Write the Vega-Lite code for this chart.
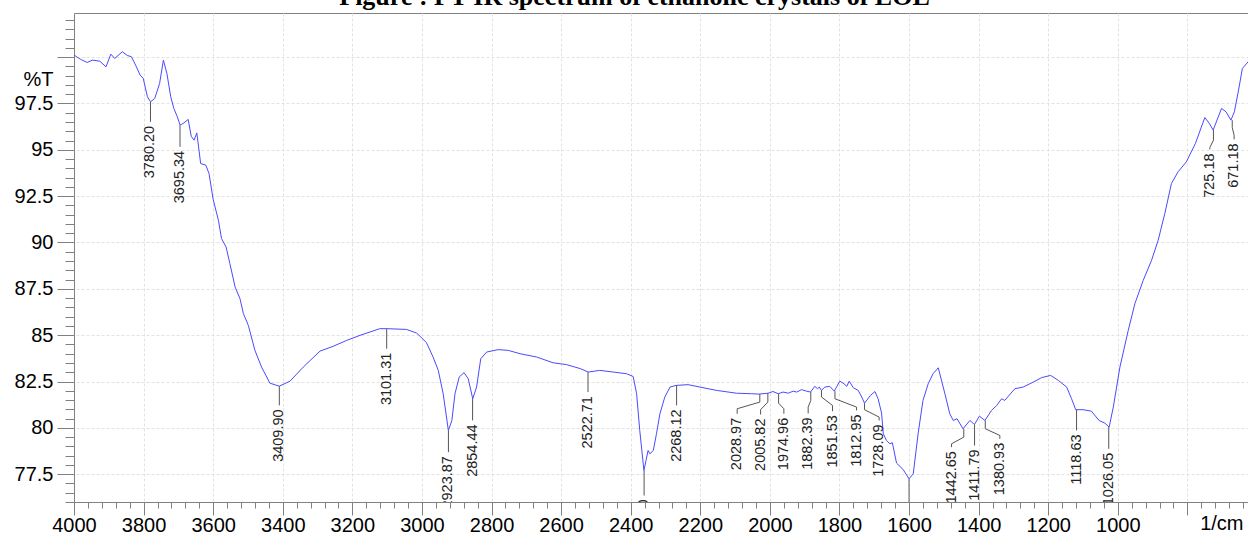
{
  "$schema": "https://vega.github.io/schema/vega-lite/v6.json",
  "autosize": {"type": "none"},
  "padding": {"left": 74, "top": 13, "right": 0, "bottom": 32},
  "width": 1175,
  "height": 489,
  "background": "white",
  "title": {
    "text": "Figure : FT IR spectrum of ethanolic crystals of EOL",
    "font": "Liberation Serif",
    "fontSize": 26,
    "fontWeight": "bold",
    "color": "#000000",
    "anchor": "middle",
    "frame": "group",
    "baseline": "alphabetic",
    "offset": -21,
    "dx": -27
  },
  "config": {
    "view": {"stroke": "#808080", "strokeWidth": 1},
    "axis": {"labelFont": "Liberation Sans", "titleFont": "Liberation Sans"}
  },
  "datasets": {
    "spec": [
      {"wn": 4000, "t": 100.11}, {"wn": 3981, "t": 99.88}, {"wn": 3962, "t": 99.71}, {"wn": 3947, "t": 99.84},
      {"wn": 3926, "t": 99.78}, {"wn": 3908, "t": 99.48}, {"wn": 3894, "t": 100.16}, {"wn": 3883, "t": 99.93},
      {"wn": 3861, "t": 100.29}, {"wn": 3847, "t": 100.09}, {"wn": 3835, "t": 100.02}, {"wn": 3823, "t": 99.57},
      {"wn": 3810, "t": 99.03}, {"wn": 3801, "t": 98.85}, {"wn": 3789, "t": 97.86}, {"wn": 3780, "t": 97.59},
      {"wn": 3768, "t": 97.77}, {"wn": 3754, "t": 98.58}, {"wn": 3743, "t": 99.84}, {"wn": 3733, "t": 99.12},
      {"wn": 3722, "t": 97.86}, {"wn": 3713, "t": 97.23}, {"wn": 3703, "t": 96.78}, {"wn": 3695, "t": 96.33},
      {"wn": 3684, "t": 96.45}, {"wn": 3672, "t": 96.64}, {"wn": 3663, "t": 95.73}, {"wn": 3655, "t": 95.52},
      {"wn": 3647, "t": 95.91}, {"wn": 3636, "t": 94.26}, {"wn": 3621, "t": 94.17}, {"wn": 3612, "t": 93.72},
      {"wn": 3600, "t": 92.32}, {"wn": 3585, "t": 91.2}, {"wn": 3576, "t": 90.21}, {"wn": 3563, "t": 89.76},
      {"wn": 3552, "t": 88.86}, {"wn": 3537, "t": 87.6}, {"wn": 3523, "t": 86.97}, {"wn": 3513, "t": 86.16},
      {"wn": 3499, "t": 85.53}, {"wn": 3480, "t": 84.18}, {"wn": 3461, "t": 83.28}, {"wn": 3437, "t": 82.41},
      {"wn": 3410, "t": 82.25}, {"wn": 3379, "t": 82.52}, {"wn": 3341, "t": 83.28}, {"wn": 3293, "t": 84.14},
      {"wn": 3255, "t": 84.4}, {"wn": 3216, "t": 84.72}, {"wn": 3178, "t": 84.99}, {"wn": 3121, "t": 85.35},
      {"wn": 3101, "t": 85.35}, {"wn": 3044, "t": 85.31}, {"wn": 3015, "t": 85.11}, {"wn": 2987, "t": 84.6},
      {"wn": 2968, "t": 83.82}, {"wn": 2953, "t": 83.1}, {"wn": 2939, "t": 81.84}, {"wn": 2924, "t": 79.86},
      {"wn": 2914, "t": 80.4}, {"wn": 2905, "t": 81.84}, {"wn": 2893, "t": 82.74}, {"wn": 2879, "t": 82.98},
      {"wn": 2867, "t": 82.65}, {"wn": 2854, "t": 81.57}, {"wn": 2843, "t": 82.2}, {"wn": 2831, "t": 83.73},
      {"wn": 2814, "t": 84.09}, {"wn": 2781, "t": 84.22}, {"wn": 2752, "t": 84.18}, {"wn": 2718, "t": 84.0},
      {"wn": 2670, "t": 83.82}, {"wn": 2623, "t": 83.51}, {"wn": 2584, "t": 83.41}, {"wn": 2544, "t": 83.19},
      {"wn": 2522, "t": 83.01}, {"wn": 2489, "t": 83.1}, {"wn": 2450, "t": 83.01}, {"wn": 2412, "t": 82.92},
      {"wn": 2393, "t": 82.77}, {"wn": 2383, "t": 81.84}, {"wn": 2374, "t": 79.86}, {"wn": 2362, "t": 77.7},
      {"wn": 2356, "t": 78.24}, {"wn": 2350, "t": 78.78}, {"wn": 2345, "t": 78.6}, {"wn": 2335, "t": 78.78},
      {"wn": 2326, "t": 79.68}, {"wn": 2316, "t": 80.76}, {"wn": 2302, "t": 81.66}, {"wn": 2287, "t": 82.2},
      {"wn": 2270, "t": 82.29}, {"wn": 2235, "t": 82.33}, {"wn": 2201, "t": 82.2}, {"wn": 2153, "t": 82.02},
      {"wn": 2096, "t": 81.87}, {"wn": 2053, "t": 81.84}, {"wn": 2031, "t": 81.82}, {"wn": 2005, "t": 81.87},
      {"wn": 1991, "t": 81.96}, {"wn": 1976, "t": 81.84}, {"wn": 1962, "t": 81.93}, {"wn": 1947, "t": 81.87},
      {"wn": 1933, "t": 81.98}, {"wn": 1923, "t": 81.93}, {"wn": 1909, "t": 82.06}, {"wn": 1895, "t": 81.98},
      {"wn": 1883, "t": 81.93}, {"wn": 1871, "t": 82.24}, {"wn": 1863, "t": 82.11}, {"wn": 1858, "t": 82.2},
      {"wn": 1852, "t": 82.02}, {"wn": 1842, "t": 82.2}, {"wn": 1828, "t": 82.24}, {"wn": 1815, "t": 81.98},
      {"wn": 1799, "t": 82.52}, {"wn": 1787, "t": 82.38}, {"wn": 1779, "t": 82.24}, {"wn": 1772, "t": 82.52},
      {"wn": 1760, "t": 82.16}, {"wn": 1746, "t": 82.02}, {"wn": 1736, "t": 81.66}, {"wn": 1728, "t": 81.33},
      {"wn": 1711, "t": 81.75}, {"wn": 1698, "t": 81.96}, {"wn": 1689, "t": 81.57}, {"wn": 1679, "t": 80.8},
      {"wn": 1674, "t": 79.68}, {"wn": 1665, "t": 79.32}, {"wn": 1655, "t": 79.14}, {"wn": 1648, "t": 79.2},
      {"wn": 1636, "t": 78.1}, {"wn": 1617, "t": 77.75}, {"wn": 1600, "t": 77.25}, {"wn": 1588, "t": 77.52},
      {"wn": 1574, "t": 79.68}, {"wn": 1560, "t": 81.48}, {"wn": 1545, "t": 82.38}, {"wn": 1531, "t": 82.92},
      {"wn": 1516, "t": 83.24}, {"wn": 1497, "t": 81.84}, {"wn": 1483, "t": 80.76}, {"wn": 1473, "t": 80.4},
      {"wn": 1462, "t": 80.49}, {"wn": 1445, "t": 79.95}, {"wn": 1425, "t": 80.4}, {"wn": 1412, "t": 80.18},
      {"wn": 1398, "t": 80.63}, {"wn": 1382, "t": 80.4}, {"wn": 1363, "t": 80.94}, {"wn": 1348, "t": 81.21},
      {"wn": 1334, "t": 81.57}, {"wn": 1325, "t": 81.48}, {"wn": 1296, "t": 82.11}, {"wn": 1272, "t": 82.2},
      {"wn": 1243, "t": 82.47}, {"wn": 1219, "t": 82.71}, {"wn": 1193, "t": 82.83}, {"wn": 1171, "t": 82.56},
      {"wn": 1147, "t": 82.2}, {"wn": 1133, "t": 81.57}, {"wn": 1121, "t": 80.98}, {"wn": 1100, "t": 80.98},
      {"wn": 1076, "t": 80.9}, {"wn": 1054, "t": 80.4}, {"wn": 1037, "t": 80.25}, {"wn": 1025, "t": 80.04},
      {"wn": 1013, "t": 81.12}, {"wn": 994, "t": 83.28}, {"wn": 970, "t": 85.26}, {"wn": 951, "t": 86.7},
      {"wn": 927, "t": 87.96}, {"wn": 903, "t": 89.04}, {"wn": 884, "t": 90.12}, {"wn": 865, "t": 91.56},
      {"wn": 846, "t": 93.18}, {"wn": 827, "t": 93.81}, {"wn": 803, "t": 94.35}, {"wn": 777, "t": 95.34},
      {"wn": 750, "t": 96.74}, {"wn": 737, "t": 96.42}, {"wn": 726, "t": 96.06}, {"wn": 715, "t": 96.6},
      {"wn": 702, "t": 97.23}, {"wn": 689, "t": 97.05}, {"wn": 675, "t": 96.6}, {"wn": 665, "t": 97.05},
      {"wn": 653, "t": 98.22}, {"wn": 642, "t": 99.39}, {"wn": 623, "t": 99.8}
    ],
    "lead": [
      {"id": "a", "o": 1, "wn": 3780.2, "t": 97.59}, {"id": "a", "o": 2, "wn": 3780.2, "t": 96.51},
      {"id": "b", "o": 1, "wn": 3695.34, "t": 96.33}, {"id": "b", "o": 2, "wn": 3695.34, "t": 95.16},
      {"id": "c", "o": 1, "wn": 3409.9, "t": 82.25}, {"id": "c", "o": 2, "wn": 3409.9, "t": 81.21},
      {"id": "d", "o": 1, "wn": 3101.31, "t": 85.35}, {"id": "d", "o": 2, "wn": 3101.31, "t": 84.27},
      {"id": "e", "o": 1, "wn": 2923.87, "t": 79.86}, {"id": "e", "o": 2, "wn": 2923.87, "t": 78.69},
      {"id": "f", "o": 1, "wn": 2854.44, "t": 81.57}, {"id": "f", "o": 2, "wn": 2854.44, "t": 80.4},
      {"id": "g", "o": 1, "wn": 2522.71, "t": 83.01}, {"id": "g", "o": 2, "wn": 2522.71, "t": 81.93},
      {"id": "h", "o": 1, "wn": 2361.5, "t": 77.7}, {"id": "h", "o": 2, "wn": 2361.5, "t": 76.35},
      {"id": "i", "o": 1, "wn": 2268.12, "t": 82.29}, {"id": "i", "o": 2, "wn": 2268.12, "t": 81.21},
      {"id": "j", "o": 1, "wn": 2028.97, "t": 81.82}, {"id": "j", "o": 2, "wn": 2028.97, "t": 81.39}, {"id": "j", "o": 3, "wn": 2094, "t": 81.03}, {"id": "j", "o": 4, "wn": 2094, "t": 80.76},
      {"id": "k", "o": 1, "wn": 2005.82, "t": 81.87}, {"id": "k", "o": 2, "wn": 2005.82, "t": 81.39}, {"id": "k", "o": 3, "wn": 2026.7, "t": 80.98}, {"id": "k", "o": 4, "wn": 2026.7, "t": 80.72},
      {"id": "l", "o": 1, "wn": 1974.96, "t": 81.84}, {"id": "l", "o": 2, "wn": 1974.96, "t": 81.33}, {"id": "l", "o": 3, "wn": 1959.8, "t": 81.03}, {"id": "l", "o": 4, "wn": 1959.8, "t": 80.76},
      {"id": "m", "o": 1, "wn": 1882.39, "t": 81.93}, {"id": "m", "o": 2, "wn": 1882.39, "t": 81.48}, {"id": "m", "o": 3, "wn": 1890, "t": 81.12}, {"id": "m", "o": 4, "wn": 1890, "t": 80.78},
      {"id": "n", "o": 1, "wn": 1851.53, "t": 82.02}, {"id": "n", "o": 2, "wn": 1851.53, "t": 81.66}, {"id": "n", "o": 3, "wn": 1820, "t": 81.21}, {"id": "n", "o": 4, "wn": 1820, "t": 80.9},
      {"id": "p", "o": 1, "wn": 1812.95, "t": 81.98}, {"id": "p", "o": 2, "wn": 1812.95, "t": 81.57}, {"id": "p", "o": 3, "wn": 1750.9, "t": 81.12}, {"id": "p", "o": 4, "wn": 1750.9, "t": 80.94},
      {"id": "q", "o": 1, "wn": 1728.09, "t": 81.33}, {"id": "q", "o": 2, "wn": 1728.09, "t": 80.98}, {"id": "q", "o": 3, "wn": 1686, "t": 80.58}, {"id": "q", "o": 4, "wn": 1686, "t": 80.4},
      {"id": "r", "o": 1, "wn": 1600, "t": 77.25}, {"id": "r", "o": 2, "wn": 1600, "t": 76.0},
      {"id": "s", "o": 1, "wn": 1442.65, "t": 79.95}, {"id": "s", "o": 2, "wn": 1442.65, "t": 79.5}, {"id": "s", "o": 3, "wn": 1477.9, "t": 79.14}, {"id": "s", "o": 4, "wn": 1477.9, "t": 78.96},
      {"id": "u", "o": 1, "wn": 1411.79, "t": 80.18}, {"id": "u", "o": 2, "wn": 1411.79, "t": 79.05},
      {"id": "v", "o": 1, "wn": 1380.93, "t": 80.4}, {"id": "v", "o": 2, "wn": 1380.93, "t": 79.95}, {"id": "v", "o": 3, "wn": 1339.1, "t": 79.59}, {"id": "v", "o": 4, "wn": 1339.1, "t": 79.41},
      {"id": "w", "o": 1, "wn": 1118.63, "t": 80.98}, {"id": "w", "o": 2, "wn": 1118.63, "t": 79.86},
      {"id": "x", "o": 1, "wn": 1026.05, "t": 80.04}, {"id": "x", "o": 2, "wn": 1026.05, "t": 78.87},
      {"id": "y", "o": 1, "wn": 725.18, "t": 96.06}, {"id": "y", "o": 2, "wn": 725.18, "t": 95.52}, {"id": "y", "o": 3, "wn": 735.6, "t": 95.12}, {"id": "y", "o": 4, "wn": 735.6, "t": 95.02},
      {"id": "z", "o": 1, "wn": 671.18, "t": 96.6}, {"id": "z", "o": 2, "wn": 671.18, "t": 96.2}, {"id": "z", "o": 3, "wn": 665.8, "t": 95.79}, {"id": "z", "o": 4, "wn": 665.8, "t": 95.56}
    ],
    "labs": [
      {"lab": "3780.20", "wn": 3780.2, "t": 96.51},
      {"lab": "3695.34", "wn": 3695.34, "t": 95.16},
      {"lab": "3409.90", "wn": 3409.9, "t": 81.21},
      {"lab": "3101.31", "wn": 3101.31, "t": 84.27},
      {"lab": "2923.87", "wn": 2923.87, "t": 78.69},
      {"lab": "2854.44", "wn": 2854.44, "t": 80.4},
      {"lab": "2522.71", "wn": 2522.71, "t": 81.93},
      {"lab": "2360.80", "wn": 2361.5, "t": 76.35},
      {"lab": "2268.12", "wn": 2268.12, "t": 81.21},
      {"lab": "2028.97", "wn": 2094, "t": 80.76},
      {"lab": "2005.82", "wn": 2026.7, "t": 80.72},
      {"lab": "1974.96", "wn": 1959.8, "t": 80.76},
      {"lab": "1882.39", "wn": 1890, "t": 80.78},
      {"lab": "1851.53", "wn": 1820, "t": 80.9},
      {"lab": "1812.95", "wn": 1750.9, "t": 80.94},
      {"lab": "1728.09", "wn": 1686, "t": 80.4},
      {"lab": "1442.65", "wn": 1477.9, "t": 78.96},
      {"lab": "1411.79", "wn": 1411.79, "t": 79.05},
      {"lab": "1380.93", "wn": 1339.1, "t": 79.41},
      {"lab": "1118.63", "wn": 1118.63, "t": 79.86},
      {"lab": "1026.05", "wn": 1026.05, "t": 78.87},
      {"lab": "725.18", "wn": 735.6, "t": 95.02},
      {"lab": "671.18", "wn": 665.8, "t": 95.56}
    ]
  },
  "encoding": {
    "x": {
      "field": "wn",
      "type": "quantitative",
      "scale": {"domain": [623, 4000], "reverse": true, "nice": false, "zero": false},
      "axis": {
        "values": [4000,3960,3920,3880,3840,3800,3760,3720,3680,3640,3600,3560,3520,3480,3440,3400,3360,3320,3280,3240,3200,3160,3120,3080,3040,3000,2960,2920,2880,2840,2800,2760,2720,2680,2640,2600,2560,2520,2480,2440,2400,2360,2320,2280,2240,2200,2160,2120,2080,2040,2000,1960,1920,1880,1840,1800,1760,1720,1680,1640,1600,1560,1520,1480,1440,1400,1360,1320,1280,1240,1200,1160,1120,1080,1040,1000,960,920,880,840,800,760,720,680,640],
        "labelExpr": "datum.value % 200 === 0 && datum.value >= 1000 ? '' + datum.value : ''",
        "labelOverlap": false,
        "labelFlush": false,
        "labelFontSize": 20,
        "labelColor": "#000000",
        "labelPadding": 0,
        "tickSize": {"condition": {"test": "datum.value % 200 === 0", "value": 13}, "value": 6},
        "tickColor": "#808080",
        "domainColor": "#808080",
        "grid": true,
        "gridColor": "#e2e2e2",
        "gridDash": [3, 2],
        "gridOpacity": {"condition": {"test": "datum.value % 200 === 0", "value": 1}, "value": 0},
        "title": "1/cm",
        "titleFontSize": 20,
        "titleFontWeight": "normal",
        "titleColor": "#000000",
        "titleAlign": "right",
        "titleBaseline": "alphabetic",
        "titleAnchor": null,
        "titleX": 1169,
        "titleY": 27
      }
    },
    "y": {
      "field": "t",
      "type": "quantitative",
      "scale": {"domain": [76, 102.38], "nice": false, "zero": false},
      "axis": {
        "values": [76,76.5,77,77.5,78,78.5,79,79.5,80,80.5,81,81.5,82,82.5,83,83.5,84,84.5,85,85.5,86,86.5,87,87.5,88,88.5,89,89.5,90,90.5,91,91.5,92,92.5,93,93.5,94,94.5,95,95.5,96,96.5,97,97.5,98,98.5,99,99.5,100,100.5,101,101.5,102],
        "labelExpr": "datum.value % 2.5 === 0 && datum.value < 99 ? '' + datum.value : ''",
        "labelOverlap": false,
        "labelFlush": false,
        "labelFontSize": 20,
        "labelColor": "#000000",
        "labelPadding": 4,
        "tickSize": {"condition": {"test": "datum.value % 2.5 === 0", "value": 17}, "value": 9},
        "tickColor": "#808080",
        "domainColor": "#808080",
        "grid": true,
        "gridColor": "#e2e2e2",
        "gridDash": [3, 2],
        "gridOpacity": {"condition": {"test": "datum.value % 2.5 === 0", "value": 1}, "value": 0},
        "title": "%T",
        "titleAngle": 0,
        "titleFontSize": 20,
        "titleFontWeight": "normal",
        "titleColor": "#000000",
        "titleAlign": "right",
        "titleBaseline": "alphabetic",
        "titleAnchor": null,
        "titleX": -21,
        "titleY": 72
      }
    }
  },
  "layer": [
    {
      "data": {"name": "spec"},
      "mark": {"type": "line", "color": "#4a4aff", "strokeWidth": 1, "clip": true}
    },
    {
      "data": {"name": "lead"},
      "mark": {"type": "line", "color": "#555555", "strokeWidth": 1, "clip": true},
      "encoding": {
        "detail": {"field": "id", "type": "nominal"},
        "order": {"field": "o", "type": "quantitative"}
      }
    },
    {
      "data": {"name": "labs"},
      "mark": {"type": "text", "angle": 270, "align": "right", "baseline": "middle", "dx": -4, "font": "Liberation Sans", "fontSize": 14.5, "color": "#222222", "clip": true},
      "encoding": {
        "text": {"field": "lab", "type": "nominal"}
      }
    }
  ]
}
